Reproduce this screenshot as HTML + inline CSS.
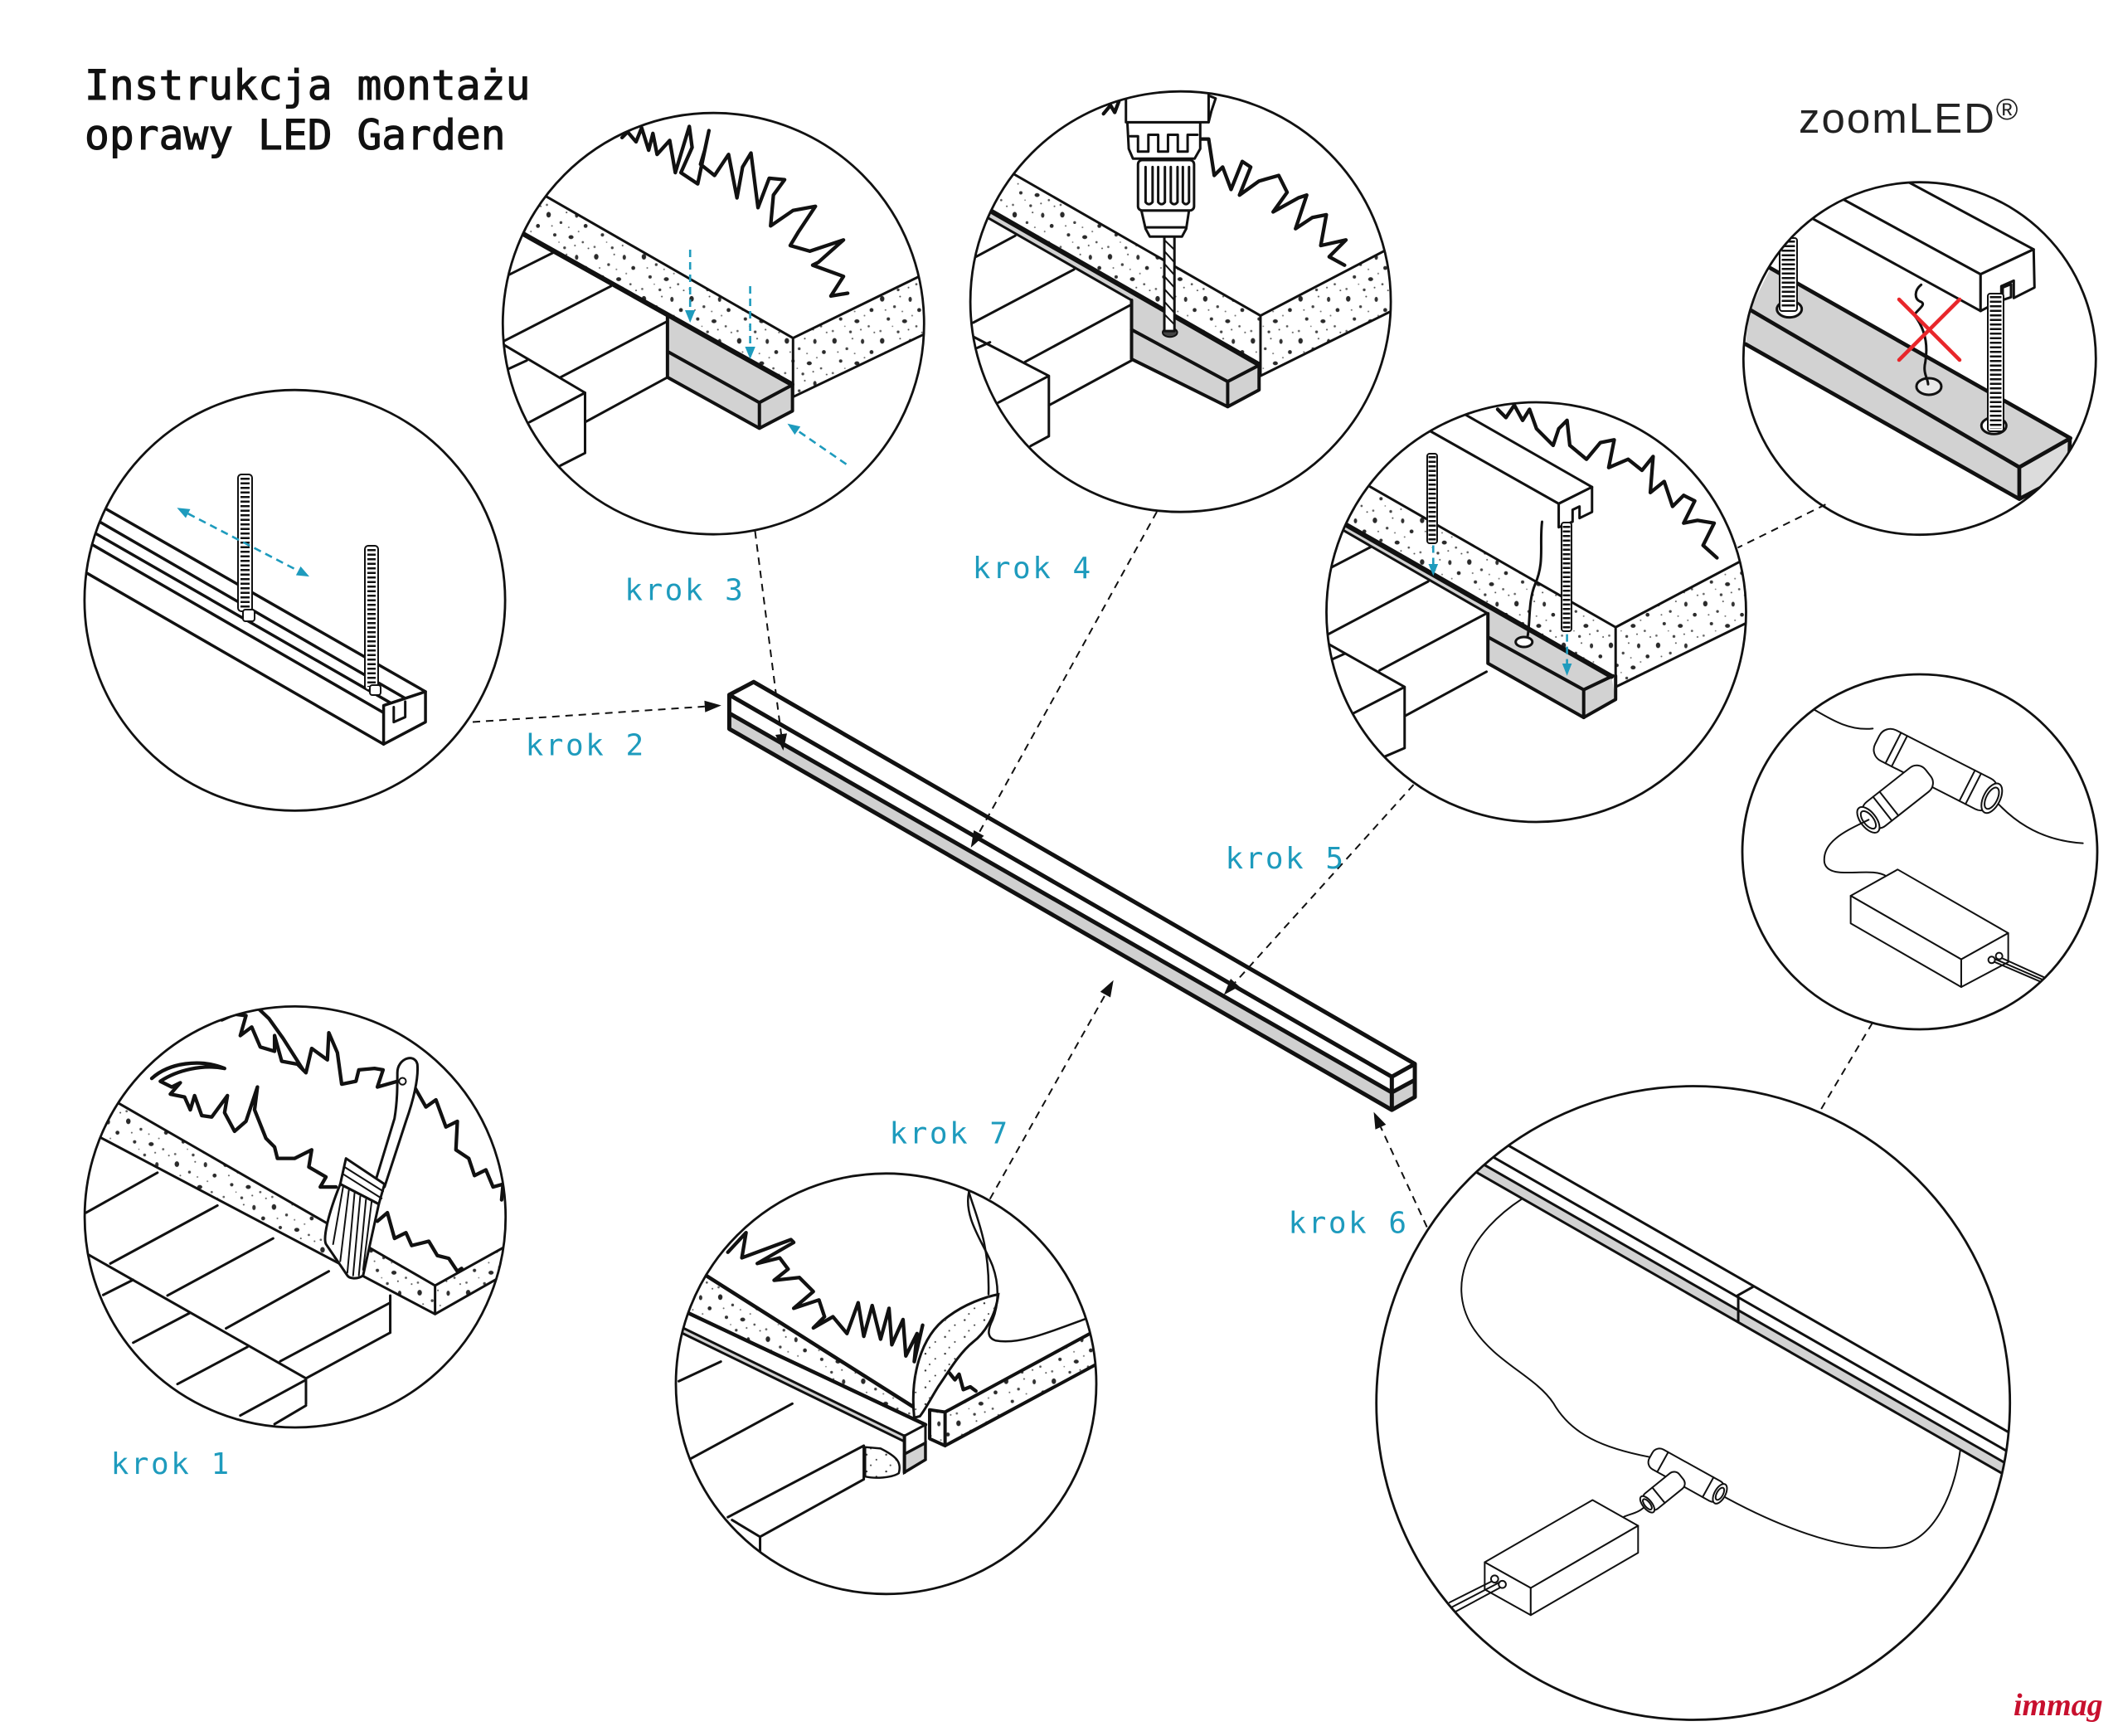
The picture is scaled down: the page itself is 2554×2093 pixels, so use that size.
<!DOCTYPE html>
<html><head><meta charset="utf-8"><style>
html,body{margin:0;padding:0;background:#fff;}
svg{display:block}
svg *{vector-effect:non-scaling-stroke}
.l{fill:none;stroke:#111;stroke-width:3;stroke-linejoin:round;stroke-linecap:round}
.t{fill:none;stroke:#111;stroke-width:5;stroke-linejoin:round;stroke-linecap:round}
.m{fill:none;stroke:#111;stroke-width:4;stroke-linejoin:round;stroke-linecap:round}
.n{fill:none;stroke:#111;stroke-width:2;stroke-linejoin:round;stroke-linecap:round}
.w{fill:#fff;stroke:#111;stroke-width:3;stroke-linejoin:round}
.wn{fill:#fff;stroke:#111;stroke-width:2;stroke-linejoin:round}
.g{fill:#d2d2d2;stroke:none}
.gr{fill:none;stroke:#111;stroke-width:4.3;stroke-linejoin:round;stroke-linecap:round}
.c{fill:none;stroke:#111;stroke-width:2.8}
.d{fill:none;stroke:#111;stroke-width:2;stroke-dasharray:9 7}
.td{fill:none;stroke:#1e9bbd;stroke-width:2.6;stroke-dasharray:9 6}
.k{font-family:"DejaVu Sans Mono","Liberation Mono",monospace;font-size:36px;fill:#1e9bbd;letter-spacing:2.5px}
</style></head><body>
<svg width="2554" height="2093" viewBox="0 0 2554 2093" xmlns="http://www.w3.org/2000/svg">
<defs>
<pattern id="sp" patternUnits="userSpaceOnUse" width="170" height="150">
<ellipse cx="18" cy="20" rx="8" ry="10" fill="#2a2a2a"/>
<circle cx="62" cy="48" r="5" fill="#444"/>
<ellipse cx="118" cy="22" rx="6" ry="9" fill="#333"/>
<circle cx="150" cy="60" r="7" fill="#2a2a2a"/>
<circle cx="40" cy="92" r="6" fill="#333"/>
<ellipse cx="98" cy="100" rx="9" ry="7" fill="#2a2a2a"/>
<circle cx="140" cy="118" r="4" fill="#555"/>
<circle cx="12" cy="135" r="4" fill="#666"/>
<circle cx="75" cy="138" r="5" fill="#444"/>
<circle cx="90" cy="65" r="3" fill="#777"/>
<circle cx="125" cy="80" r="3" fill="#777"/>
<circle cx="30" cy="60" r="3" fill="#666"/>
<circle cx="160" cy="140" r="3" fill="#555"/>
<circle cx="55" cy="118" r="2.5" fill="#777"/>
<circle cx="112" cy="130" r="3" fill="#555"/>
<circle cx="82" cy="12" r="3" fill="#555"/>
</pattern>
<pattern id="sp2" patternUnits="userSpaceOnUse" width="70" height="60">
<circle cx="10" cy="12" r="3.5" fill="#333"/><circle cx="45" cy="30" r="3" fill="#333"/><circle cx="25" cy="50" r="3" fill="#444"/>
</pattern>
<clipPath id="k1"><circle cx="355.9" cy="1467.2" r="253.8"/></clipPath>
<clipPath id="k2"><circle cx="355.5" cy="723.8" r="253.6"/></clipPath>
<clipPath id="k3"><circle cx="860.3" cy="390.2" r="254"/></clipPath>
<clipPath id="k4"><circle cx="1423.6" cy="363.7" r="253.5"/></clipPath>
<clipPath id="k5"><circle cx="1852.5" cy="738" r="253"/></clipPath>
<clipPath id="k6"><circle cx="2314.8" cy="432.2" r="212.5"/></clipPath>
<clipPath id="k7"><circle cx="2315" cy="1027" r="214"/></clipPath>
<clipPath id="k8"><circle cx="2041.7" cy="1691.5" r="382"/></clipPath>
<clipPath id="k9"><circle cx="1068.5" cy="1668.3" r="253.5"/></clipPath>
</defs>

<!-- Title -->
<g font-family="'DejaVu Sans Mono','Liberation Mono',monospace" font-size="49.6" fill="#111" stroke="#111" stroke-width="1.1">
<text x="102" y="120">Instrukcja montażu</text>
<text x="102" y="180">oprawy LED Garden</text>
</g>
<text x="2169" y="160" font-family="'Liberation Sans',sans-serif" font-size="51" letter-spacing="2" fill="#222">zoomLED<tspan font-size="36" dy="-16">®</tspan></text>

<!-- C1 krok 1 -->
<g clip-path="url(#k1)"><g transform="translate(90,1190) scale(0.3444)">
<path class="gr" d="M270,320 C330,265 440,250 525,285 C450,270 360,290 300,330 L340,350 L370,335 L335,375 L385,385 L405,430 L420,380 L445,450 L480,455 L535,380 L525,440 L560,505 L600,470 L640,350 L630,430 L670,530 L700,560 L710,600 L770,600 L830,570 L820,630 L880,665 L860,700 L915,700"/>
<path class="gr" d="M515,115 L560,95 L600,100 L580,170 L620,140 L650,210 L700,225 L700,170 L725,260 L780,270 L810,300 L830,215 L885,255 L890,160 L920,230 L935,340 L985,330 L995,290 L1050,285 L1080,290 L1060,350 L1130,330"/>
<path class="gr" d="M640,72 L680,110 L730,180 L800,290"/>
<path class="gr" d="M1190,350 L1230,420 L1265,395 L1300,490 L1340,470 L1335,570 L1380,600 L1400,660 L1440,640 L1465,700 L1500,690 L1495,745"/>
<path class="gr" d="M1060,820 L1095,790 L1120,880 L1160,860 L1180,905 L1240,890 L1270,940 L1310,950 L1340,995 L1355,985"/>
<polygon points="0,318 1262,1045 1262,1145 0,479" fill="url(#sp)"/>
<polygon points="1262,1045 1568,875 1568,971 1262,1145" fill="url(#sp)"/>
<path class="l" d="M0,318 L1262,1045 L1568,875 M0,479 L1262,1145 L1568,971 M1262,1045 L1262,1145"/>
<path class="l" d="M40,790 L290,650 M125,968 L500,765 M45,935 L810,1370 M100,1078 L205,1025 M325,1080 L695,880 M530,1195 L890,995 M205,1245 L405,1140 M360,1390 L605,1260 M720,1310 L1105,1105 M810,1370 L1105,1210 M1105,1080 L1105,1210 M810,1370 L810,1460 M580,1500 L810,1375 M700,1530 L810,1465"/>
<path class="w" d="M1130,300 C1130,250 1190,230 1200,270 C1205,320 1185,400 1160,470 L1085,700 L1050,690 L1120,460 C1130,400 1130,350 1130,300 Z"/>
<circle cx="1148" cy="330" r="12" class="wn"/>
<polygon class="w" points="950,600 1085,690 1065,760 930,690"/>
<path class="n" d="M945,630 L1080,715 M940,655 L1075,740"/>
<path class="w" d="M930,690 L1065,760 L1010,1010 C990,1025 960,1020 955,1010 L880,900 C870,880 885,800 930,690 Z"/>
<path class="n" d="M940,700 L905,900 M960,712 L930,960 M980,722 L955,1000 M1000,733 L975,1010 M1020,744 L995,1010 M1040,750 L1010,990"/>
</g></g>

<!-- C2 krok 2 -->
<g clip-path="url(#k2)"><g transform="translate(0,0) scale(0.8144,0.6671)">
<path class="l" style="stroke-width:3.5" d="M100,880 L630,1250 M95,906 L600,1262 M90,928 L585,1275 M85,948 L568,1288 M75,998 L568,1345"/>
<path class="w" style="stroke-width:3.5" d="M568,1275 L630,1250 L630,1305 L568,1345 Z"/>
<path class="l" style="stroke-width:3" d="M583,1278 L583,1305 L600,1296 L600,1268"/>
</g>
<rect x="287" y="572" width="17" height="165" rx="4" class="wn"/>
<line x1="295.5" y1="576" x2="295.5" y2="733" stroke="#111" stroke-width="11" stroke-dasharray="2.5 3"/>
<rect x="293" y="735" width="14" height="14" rx="3" class="wn"/>
<rect x="440" y="658" width="16" height="174" rx="4" class="wn"/>
<line x1="448" y1="662" x2="448" y2="828" stroke="#111" stroke-width="10" stroke-dasharray="2.5 3"/>
<rect x="446" y="826" width="13" height="12" rx="3" class="wn"/>
<line class="td" x1="226.7" y1="619.2" x2="359.7" y2="688.2"/>
<polygon fill="#1e9bbd" points="213.4,612.3 224,624.5 229.5,613.9"/>
<polygon fill="#1e9bbd" points="373,695.1 356.9,693.5 362.5,682.9"/>
</g>

<!-- C3 krok 3 -->
<g clip-path="url(#k3)"><g transform="translate(598,100) scale(0.338)">
<path class="gr" d="M450,195 L470,175 L500,210 L520,160 L545,240 L560,180 L575,255 L620,205 L640,320 L690,155 L700,230 L660,320 L720,360 L760,170 L745,240 L730,290 L780,330 L830,255 L860,410 L880,300 L910,250 L935,445 L975,340 L1030,345 L990,400 L980,510 L1060,455 L1140,440 L1080,530 L1050,580 L1120,600 L1240,560 L1150,640 L1130,650 L1240,690 L1195,760 L1255,750"/>
<polygon points="0,302 1060,910 1056,1075 0,484" fill="url(#sp)"/>
<polygon points="1060,910 1568,662 1568,877 1060,1120" fill="url(#sp)"/>
<path class="l" d="M0,302 L1060,910 L1568,662 M1060,910 L1060,1120 L1568,877"/>
<path class="l" d="M45,685 L205,605 M30,920 L410,725 M30,935 L318,1105 M45,1020 L110,990 M230,1050 L612,850 M318,1105 L318,1320 M318,1210 L612,1050 M120,1210 L318,1105 M230,1365 L318,1320"/>
<polygon class="g" points="612,827 1056,1075 1058,1170 940,1232 612,1050"/>
<path class="m" d="M612,832 L612,1050 L940,1232 L1058,1170 L1058,1075 M612,958 L940,1140 L1056,1078 M940,1140 L940,1232"/>
<path class="t" style="stroke-width:6" d="M0,484 L1056,1075"/>
</g>
<line class="td" x1="832.2" y1="301" x2="832.2" y2="374"/>
<polygon fill="#1e9bbd" points="832.2,389 826,374 838.4,374"/>
<line class="td" x1="904.6" y1="345" x2="904.6" y2="418"/>
<polygon fill="#1e9bbd" points="904.6,433 898.4,418 910.8,418"/>
<line class="td" x1="1020.5" y1="559.7" x2="961.8" y2="519.2"/>
<polygon fill="#1e9bbd" points="949.5,510.7 965.2,514.3 958.4,524.1"/>
</g>

<!-- C4 krok 4 -->
<g clip-path="url(#k4)"><g transform="translate(1160,100) scale(0.338)">
<path class="gr" d="M505,110 L530,80 L545,105 L560,65 M845,200 L880,200 L900,330 L930,300 L960,380 L1000,280 L1030,300 L990,400 L1060,350 L1130,330 L1160,390 L1110,460 L1200,410 L1230,400 L1190,520 L1250,480 L1300,470 L1280,580 L1370,560 L1310,620 L1365,650"/>
<polygon points="0,219 1065,830 1052,1000 0,398" fill="url(#sp)"/>
<polygon points="1065,830 1568,567 1568,796 1065,1045" fill="url(#sp)"/>
<path class="l" d="M0,219 L1065,830 L1568,567 M1065,830 L1065,1045 L1568,796"/>
<path class="l" d="M50,620 L190,545 M40,855 L400,665 M40,905 L310,1045 M55,945 L100,925 M225,995 L605,790 M310,1045 L310,1260 M130,1140 L310,1045 M310,1150 L605,990 M245,1295 L310,1260"/>
<polygon class="g" points="0,398 605,745 605,775 0,428"/>
<path class="l" d="M0,428 L605,775"/>
<polygon class="g" points="605,745 1052,1000 1060,1095 948,1155 605,985"/>
<path class="m" d="M605,775 L605,985 L948,1155 L1060,1095 L1060,1000 M605,880 L948,1065 L1058,1008 M948,1065 L948,1155"/>
<path class="t" style="stroke-width:6" d="M0,398 L1052,1000"/>
<ellipse cx="742" cy="890" rx="26" ry="16" fill="#444" stroke="#111" stroke-width="2"/>
<rect x="722" y="540" width="36" height="345" class="w"/>
<path class="n" d="M722,560 L758,595 M722,600 L758,640 M722,645 L758,685 M722,690 L758,730 M722,735 L758,775 M722,780 L758,820 M722,825 L758,862"/>
<path class="w" d="M640,455 L810,455 L800,520 L785,548 L670,548 L655,520 Z"/>
<path class="l" d="M660,515 L795,515"/>
<rect x="628" y="275" width="200" height="180" rx="15" class="w"/>
<path class="l" d="M655,300 L655,425 Q667,440 680,425 L680,300 M700,300 L700,425 Q712,440 724,425 L724,300 M745,300 L745,425 Q757,440 769,425 L769,300 M788,300 L788,425 Q799,440 810,425 L810,300"/>
<path class="w" d="M590,140 L850,140 L850,235 L830,270 L610,270 L595,235 Z"/>
<path class="l" d="M600,190 L628,190 L628,245 L665,245 L665,185 L700,185 L700,245 L735,245 L735,185 L770,185 L770,245 L805,245 L805,185 L840,185"/>
<path class="w" d="M585,0 L880,0 L880,140 L585,140 Z"/>
<path class="l" d="M880,45 L905,55 L890,100 L880,140"/>
</g></g>

<!-- C5 krok 5 -->
<g clip-path="url(#k5)"><g transform="translate(1595,470) scale(0.3348)">
<path class="gr" d="M630,70 L660,100 L690,55 L720,110 L745,70 L770,140 L830,200 L850,140 L880,110 L890,200 L950,250 L1000,190 L1050,180 L1030,280 L1100,250 L1150,290 L1190,240 L1180,370 L1230,330 L1260,420 L1300,380 L1340,400 L1300,480 L1350,470 L1410,480 L1370,560 L1420,605"/>
<polygon points="0,251 1055,855 1040,1032 0,438" fill="url(#sp)"/>
<polygon points="1055,855 1568,584 1568,819 1055,1070" fill="url(#sp)"/>
<path class="l" d="M0,251 L1055,855 L1568,584 M1055,855 L1055,1070 L1568,819"/>
<path class="l" d="M30,640 L175,565 M20,880 L380,690 M20,915 L295,1070 M35,970 L80,950 M205,1010 L590,805 M295,1070 L295,1290 M110,1165 L295,1070 M295,1175 L590,1015 M225,1320 L295,1290"/>
<polygon class="g" points="0,438 595,781 595,806 0,463"/>
<path class="l" d="M0,463 L595,806"/>
<polygon class="g" points="595,781 1040,1032 1055,1115 940,1180 595,985"/>
<path class="m" d="M595,806 L595,985 L940,1180 L1055,1115 L1055,1030 M595,890 L940,1080 L1045,1030 M940,1080 L940,1180"/>
<path class="t" style="stroke-width:6" d="M0,438 L1040,1032"/>
<ellipse cx="725" cy="908" rx="30" ry="18" class="wn" style="stroke-width:3"/>
<path class="l" d="M790,475 C780,560 800,620 765,700 C740,760 748,830 738,888"/>
<polygon class="w" points="200,-90 970,350 850,410 200,43"/>
<polygon class="w" points="200,43 850,410 850,495 200,127" style="stroke:none"/>
<path class="l" d="M200,43 L850,410"/>
<path class="w" d="M850,410 L970,350 L970,440 L925,462 L925,420 L900,432 L900,475 L850,495 Z"/>
</g>
<rect x="1721" y="547" width="12" height="108" rx="3" class="wn"/>
<line x1="1727" y1="550" x2="1727" y2="652" stroke="#111" stroke-width="9" stroke-dasharray="2.5 3"/>
<rect x="1883" y="630" width="12" height="131" rx="3" class="wn"/>
<line x1="1889" y1="634" x2="1889" y2="758" stroke="#111" stroke-width="9" stroke-dasharray="2.5 3"/>
<line class="td" x1="1728.3" y1="657.5" x2="1728.3" y2="680"/>
<polygon fill="#1e9bbd" points="1728.3,694.3 1722.5,680 1734.1,680"/>
<line class="td" x1="1889.6" y1="764.6" x2="1889.6" y2="800"/>
<polygon fill="#1e9bbd" points="1889.6,814.8 1883.8,800 1895.4,800"/>
</g>

<!-- C6 -->
<g clip-path="url(#k6)"><g transform="translate(2095,210) scale(0.3333)">
<polygon fill="#d2d2d2" points="120,340 1205,955 1020,1060 45,490"/>
<polygon fill="#d2d2d2" points="45,490 1020,1060 1020,1175 30,615"/>
<polygon fill="#dcdcdc" points="1020,1060 1205,955 1200,1080 1020,1175"/>
<path class="t" style="stroke-width:4.7" d="M120,340 L1205,955 M45,490 L1020,1060 L1205,955 M30,615 L1020,1175 L1200,1080 M1020,1060 L1020,1175 M1203,955 L1200,1080"/>
<ellipse cx="188" cy="488" rx="45" ry="30" class="wn" style="stroke-width:3"/>
<ellipse cx="928" cy="910" rx="45" ry="30" class="wn" style="stroke-width:3"/>
<ellipse cx="693" cy="768" rx="45" ry="30" fill="#e8e8e8" stroke="#111" stroke-width="3"/>
<path class="l" d="M665,400 C640,420 640,450 660,460 C690,470 650,490 640,510 C680,560 690,620 680,680 C670,720 690,740 690,760"/>
<polygon class="w" points="100,-250 1072,272 880,362 100,-63"/>
<polygon class="w" points="100,-63 880,362 880,495 100,66"/>
<path class="w" d="M880,362 L1072,272 L1075,410 L1000,448 L1000,385 L955,405 L955,455 L880,495 Z"/>
<path class="l" d="M960,410 L990,398 L990,445 L960,455 Z"/>
</g>
<rect x="2146" y="287" width="21" height="88" rx="3" class="wn"/>
<line x1="2156.5" y1="290" x2="2156.5" y2="372" stroke="#111" stroke-width="16" stroke-dasharray="2.5 3"/>
<rect x="2397" y="354" width="19" height="166" rx="3" class="wn"/>
<line x1="2406.5" y1="357" x2="2406.5" y2="517" stroke="#111" stroke-width="14" stroke-dasharray="2.5 3"/>
<path d="M2290,361 L2363,434 M2363,361 L2290,434" stroke="#e8262a" stroke-width="4.5" stroke-linecap="round" fill="none"/>
</g>

<!-- C7 -->
<g clip-path="url(#k7)"><g transform="translate(2090,800) scale(0.3333)">
<path class="n" d="M290,165 C350,200 420,245 505,235"/>
<path class="n" d="M925,470 C1000,560 1100,640 1265,650"/>
<g transform="translate(735,385) rotate(27)">
<rect x="-240" y="-62" width="475" height="124" rx="45" class="wn"/>
<path class="n" d="M-175,-62 L-175,62 M-150,-62 L-150,62 M125,-62 L125,62 M150,-62 L150,62"/>
<ellipse cx="225" cy="0" rx="30" ry="58" class="wn"/>
<ellipse cx="225" cy="0" rx="20" ry="42" class="n"/>
</g>
<g transform="translate(595,482) rotate(141.8)">
<rect x="-140" y="-55" width="280" height="110" rx="40" class="wn"/>
<path class="n" d="M40,-55 L40,55 M70,-55 L70,55"/>
<ellipse cx="135" cy="0" rx="28" ry="55" class="wn"/>
<ellipse cx="135" cy="0" rx="18" ry="38" class="n"/>
</g>
<path class="n" d="M490,565 C420,600 320,640 330,720 C345,790 500,730 555,770"/>
<polygon class="wn" points="425,840 595,745 995,975 825,1070"/>
<polygon class="wn" points="425,840 825,1070 825,1170 425,940"/>
<polygon class="wn" points="825,1070 995,975 995,1080 825,1170"/>
<path class="n" d="M935,1075 L1110,1150 M960,1060 L1125,1135 M945,1068 L1118,1143"/>
<circle cx="935" cy="1072" r="12" class="wn"/><circle cx="962" cy="1058" r="12" class="wn"/>
</g></g>

<!-- C8 krok 6 -->
<g clip-path="url(#k8)"><g transform="translate(1650,1240) scale(0.544)">
<polygon class="g" points="200,269.5 1500,1013.5 1500,1040.5 200,296"/>
<path class="l" d="M200,196 L1500,941 M200,241 L1500,985 M200,269.5 L1500,1013.5 M200,296 L1500,1040.5"/>
<path class="l" d="M818,592 L852,573 M820,595 L820,650"/>
<path class="n" d="M340,378 C230,450 170,560 230,660 C280,740 370,770 410,830 C450,900 520,930 625,950"/>
<path class="n" d="M775,1030 C900,1100 1050,1160 1160,1150 C1260,1140 1300,1020 1312,935"/>
<path class="n" d="M616,1056 C600,1075 580,1075 565,1083"/>
<g transform="translate(705,990) rotate(29)"><rect x="-90" y="-25" width="180" height="50" rx="18" class="wn"/><path class="n" d="M-60,-25 L-60,25 M55,-25 L55,25"/><ellipse cx="85" cy="0" rx="12" ry="24" class="wn"/><ellipse cx="85" cy="0" rx="7" ry="15" class="n"/></g>
<g transform="translate(655,1025) rotate(141)"><rect x="-50" y="-22" width="100" height="44" rx="15" class="wn"/><path class="n" d="M15,-22 L15,22"/><ellipse cx="47" cy="0" rx="10" ry="22" class="wn"/><ellipse cx="47" cy="0" rx="6" ry="14" class="n"/></g>
<polygon class="wn" points="258,1183 497,1045 598,1102 360,1240"/>
<polygon class="wn" points="258,1183 360,1240 360,1300 258,1243"/>
<polygon class="wn" points="360,1240 598,1102 598,1162 360,1300"/>
<path class="n" d="M280,1222 L180,1272 M290,1228 L186,1282 M298,1236 L194,1292"/>
<circle cx="280" cy="1220" r="8" class="wn"/><circle cx="297" cy="1232" r="8" class="wn"/>
</g></g>

<!-- C9 krok 7 -->
<g clip-path="url(#k9)"><g transform="translate(805,1405) scale(0.338)">
<path class="gr" d="M215,310 L280,240 L265,330 L440,265 L450,275 L320,350 L400,330 L430,370 L380,410 L470,400 L520,450 L450,510 L540,480 L560,540 L520,580 L590,540 L640,600 L680,490 L700,610 L730,500 L760,620 L790,510 L800,640 L840,550 L850,680 L890,600 L880,700 L910,570"/>
<polygon points="0,306 890,870 920,925 0,492" fill="url(#sp)"/>
<path class="t" style="stroke-width:4.5" d="M0,306 L890,870 M0,492 L920,925"/>
<polygon class="g" points="0,553 845,965 845,985 0,573"/>
<path class="l" d="M0,553 L845,965 M0,573 L845,985"/>
<path class="l" d="M40,770 L190,700 M85,1045 L445,850 M215,1255 L700,1000 M700,1000 L700,1120 M330,1325 L700,1120 M230,1265 L330,1325 M330,1325 L330,1380"/>
<path d="M705,1005 L705,1110 C740,1118 800,1115 825,1098 C835,1060 820,1040 760,1010 Z" fill="url(#sp2)" stroke="#111" stroke-width="2.5"/>
<polygon class="w" points="845,965 920,925 920,990 845,1030"/>
<polygon fill="#d2d2d2" stroke="#111" stroke-width="3.5" points="845,1030 920,990 920,1050 845,1095"/>
<path class="m" d="M845,965 L845,1095"/>
<polygon points="935,872 990,880 1568,567 1568,689 990,1000 935,975" fill="url(#sp)"/>
<path class="t" style="stroke-width:4" d="M935,872 L990,880 L1568,567 M990,880 L990,1000 L1568,689 M935,872 L935,975 L990,1000"/>
<path d="M880,900 C865,760 900,610 1000,540 C1060,495 1130,470 1180,460 C1170,540 1130,600 1090,630 C1040,670 1000,740 965,790 C940,830 920,870 900,895 Z" fill="#fff" stroke="#111" stroke-width="3"/>
<path d="M880,900 C865,760 900,610 1000,540 C1060,495 1130,470 1180,460 C1170,540 1130,600 1090,630 C1040,670 1000,740 965,790 C940,830 920,870 900,895 Z" fill="url(#sp2)"/>
<path class="gr" d="M1005,740 L1025,765 L1040,745 L1055,800 L1080,790 L1100,805"/>
<path class="l" style="stroke-width:2.5" d="M1075,95 C1055,190 1130,280 1160,360 C1185,430 1180,500 1160,550 C1140,590 1140,615 1170,625 C1250,640 1350,600 1490,548"/>
<path class="l" style="stroke-width:2.5" d="M1075,95 C1100,180 1150,280 1145,460"/>
</g></g>

<!-- Central bar -->
<g transform="translate(860,800) scale(0.5548)">
<polygon fill="#fff" points="35,68 88,40 1525,870 1475,898"/>
<polygon fill="#fff" points="35,68 1475,898 1475,932 35,108"/>
<polygon fill="#d0d0d0" points="35,108 1475,932 1475,970 35,142"/>
<polygon fill="#fff" points="1475,898 1525,870 1525,905 1475,932"/>
<polygon fill="#d0d0d0" points="1475,932 1525,905 1525,942 1475,970"/>
<path class="t" d="M35,68 L88,40 L1525,870 L1525,942 L1475,970 L35,142 Z M35,68 L1475,898 L1525,870 M1475,898 L1475,970 M35,108 L1475,932 L1525,905"/>
</g>

<!-- Circle outlines -->
<g class="c">
<circle cx="355.9" cy="1467.2" r="253.8"/>
<circle cx="355.5" cy="723.8" r="253.6"/>
<circle cx="860.3" cy="390.2" r="254"/>
<circle cx="1423.6" cy="363.7" r="253.5"/>
<circle cx="1852.5" cy="738" r="253"/>
<circle cx="2314.8" cy="432.2" r="212.5"/>
<circle cx="2315" cy="1027" r="214"/>
<circle cx="2041.7" cy="1691.5" r="382"/>
<circle cx="1068.5" cy="1668.3" r="253.5"/>
</g>

<!-- Connectors -->
<line class="d" x1="570" y1="870.5" x2="849.9" y2="851.8"/>
<polygon fill="#111" points="869.8,850.5 850.3,858.8 849.4,844.8"/>
<line class="d" x1="910.5" y1="640.4" x2="942" y2="885.2"/>
<polygon fill="#111" points="944.5,905 935,886 949,884.3"/>
<line class="d" x1="1395" y1="617" x2="1180.4" y2="1004.4"/>
<polygon fill="#111" points="1170.7,1021.9 1174.3,1001 1186.5,1007.8"/>
<line class="d" x1="1704.6" y1="946" x2="1489.2" y2="1184.7"/>
<polygon fill="#111" points="1475.8,1199.5 1484,1180 1494.4,1189.4"/>
<line class="d" x1="1720.7" y1="1479.4" x2="1664.9" y2="1358.8"/>
<polygon fill="#111" points="1656.5,1340.6 1671.3,1355.9 1658.5,1361.7"/>
<line class="d" x1="1193.7" y1="1445.6" x2="1332.9" y2="1199.1"/>
<polygon fill="#111" points="1342.7,1181.7 1339,1202.5 1326.8,1195.7"/>
<line class="d" x1="2201.4" y1="608.2" x2="2095.5" y2="660.3"/>
<line class="d" x1="2258" y1="1233" x2="2194" y2="1340.6"/>

<!-- Labels -->
<text class="k" x="133.6" y="1777">krok 1</text>
<text class="k" x="633.6" y="910.5">krok 2</text>
<text class="k" x="753.3" y="723.7">krok 3</text>
<text class="k" x="1172.7" y="697">krok 4</text>
<text class="k" x="1477.5" y="1046.9">krok 5</text>
<text class="k" x="1553.5" y="1486.3">krok 6</text>
<text class="k" x="1072.5" y="1378.7">krok 7</text>

<text x="2428" y="2068" font-family="'Liberation Serif',serif" font-weight="bold" font-style="italic" font-size="38" fill="#c8102e">immag</text>
</svg>
</body></html>
